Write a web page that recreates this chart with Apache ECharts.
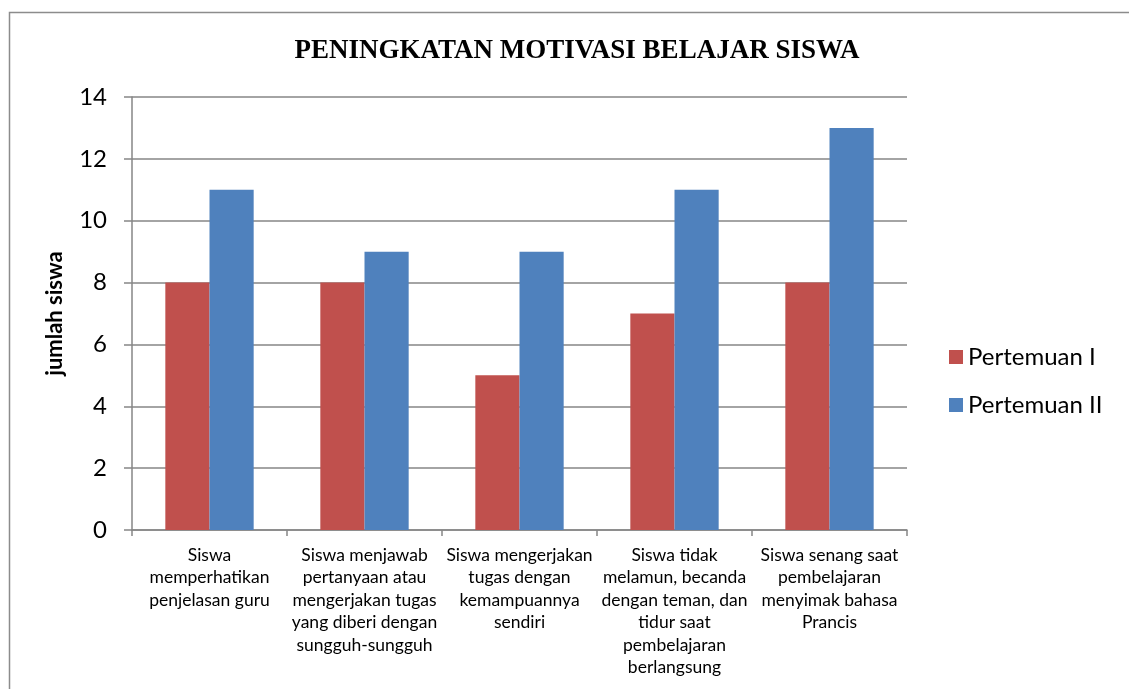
<!DOCTYPE html>
<html>
<head>
<meta charset="utf-8">
<script src="https://cdn.jsdelivr.net/npm/echarts@6/dist/echarts.min.js"></script>
<style>
  html, body { margin: 0; padding: 0; background: #fff; }
  #chart { width: 1129px; height: 689px; }
</style>
</head>
<body>
<div id="chart"></div>
<script>
// data
const categories = [
  'Siswa\nmemperhatikan\npenjelasan guru',
  'Siswa menjawab\npertanyaan atau\nmengerjakan tugas\nyang diberi dengan\nsungguh-sungguh',
  'Siswa mengerjakan\ntugas dengan\nkemampuannya\nsendiri',
  'Siswa tidak\nmelamun, becanda\ndengan teman, dan\ntidur saat\npembelajaran\nberlangsung',
  'Siswa senang saat\npembelajaran\nmenyimak bahasa\nPrancis'
]
const pertemuan1 = [8, 8, 5, 7, 8]
const pertemuan2 = [11, 9, 9, 11, 13]
const seriesNames = ['Pertemuan I', 'Pertemuan II']
const yTicks = [0, 2, 4, 6, 8, 10, 12, 14]

const font = 'Lato, "Open Sans", sans-serif'
const chart = echarts.init(document.getElementById('chart'))

const option = {
  animation: false,
  backgroundColor: '#fff',
  title: {
    text: 'PENINGKATAN MOTIVASI BELAJAR SISWA',
    left: 572,
    top: 33,
    textAlign: 'center',
    textStyle: {
      fontFamily: '"Liberation Serif", serif',
      fontWeight: 'bold',
      fontSize: 27,
      color: '#000'
    }
  },
  // chart frame
  graphic: [{
    type: 'rect',
    shape: { x: 9.5, y: 12.5, width: 1140, height: 700 },
    style: { fill: 'none', stroke: '#8c8c8c', lineWidth: 1.5 },
    silent: true
  }],
  legend: {
    orient: 'vertical',
    left: 944,
    top: 340,
    itemWidth: 14,
    itemHeight: 14,
    itemGap: 24,
    icon: 'rect',
    data: seriesNames,
    textStyle: { fontFamily: font, fontSize: 24, lineHeight: 24, color: '#000', padding: [0, 0, 0, 0] }
  },
  grid: {
    left: 132,
    right: 222,
    top: 97,
    bottom: 159
  },
  xAxis: {
    type: 'category',
    data: categories,
    axisLine: { lineStyle: { color: '#868686', width: 1.5 } },
    axisTick: { show: true, length: 6, lineStyle: { color: '#868686', width: 1.5 } },
    axisLabel: {
      interval: 0,
      fontFamily: font,
      fontSize: 17.5,
      lineHeight: 22.5,
      color: '#000',
      margin: 14
    }
  },
  yAxis: {
    type: 'value',
    min: yTicks[0],
    max: yTicks[yTicks.length - 1],
    interval: 2,
    name: 'jumlah siswa',
    nameLocation: 'middle',
    nameGap: 66,
    nameRotate: 90,
    nameTextStyle: { fontFamily: font, fontSize: 22, fontWeight: 'bold', color: '#000' },
    axisLine: { show: true, lineStyle: { color: '#868686', width: 1.5 } },
    axisTick: { show: true, length: 8, lineStyle: { color: '#868686', width: 1.5 } },
    splitLine: { lineStyle: { color: '#868686', width: 1.5 } },
    axisLabel: { fontFamily: font, fontSize: 24, color: '#000', margin: 25 }
  },
  series: [
    {
      name: seriesNames[0],
      type: 'bar',
      data: pertemuan1,
      barGap: '0%',
      barCategoryGap: '43%',
      itemStyle: { color: '#C0504D' }
    },
    {
      name: seriesNames[1],
      type: 'bar',
      data: pertemuan2,
      barGap: '0%',
      barCategoryGap: '43%',
      itemStyle: { color: '#4F81BD' }
    }
  ]
}

chart.setOption(option)
</script>
</body>
</html>
